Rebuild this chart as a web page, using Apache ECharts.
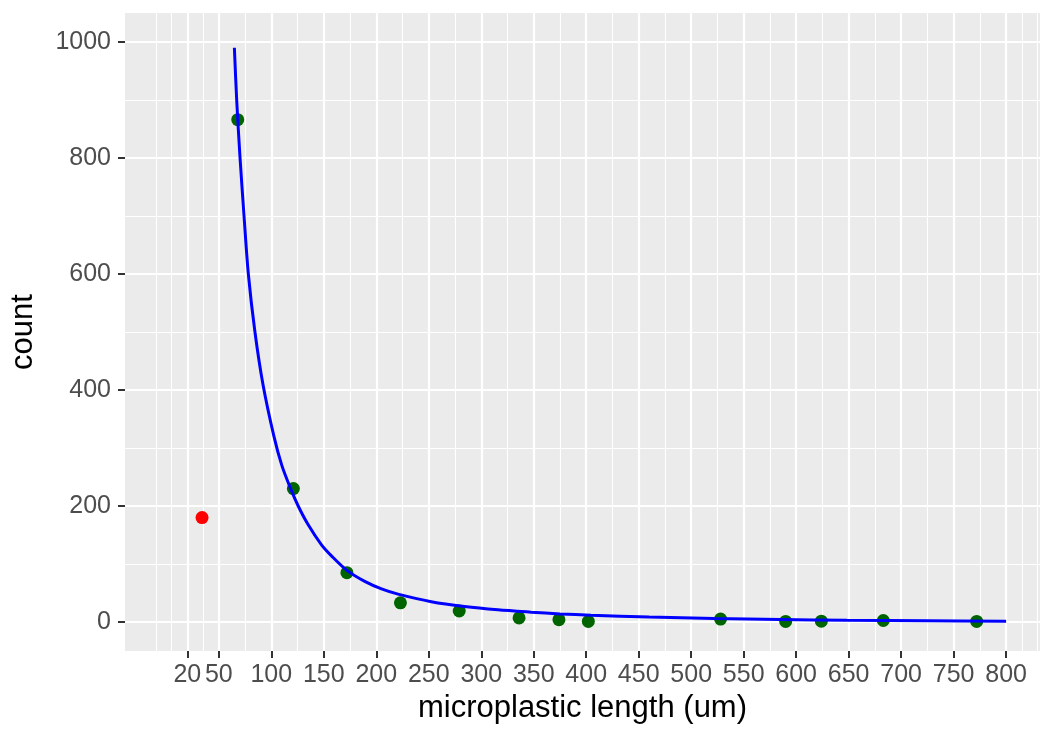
<!DOCTYPE html>
<html>
<head>
<meta charset="utf-8">
<script src="https://cdn.jsdelivr.net/npm/echarts@6/dist/echarts.min.js"></script>
<style>
    html, body { margin: 0; padding: 0; background: #fff; }
    #main { width: 1046px; height: 729px; }
</style>
</head>
<body>
<div id="main"></div>
<script>
// observed counts by length (um)
var greenPoints = [
    [68, 866], [121, 230], [172, 85], [223, 33], [279, 19], [336, 7],
    [374, 4], [402, 1], [528, 5], [590, 1], [624, 1.5], [683, 2.6], [772, 1]
];
var redPoints = [[34, 180]];
// fitted curve
var fitCurve = [
    [64.8, 990], [67, 900], [70.2, 800], [74, 700], [78.1, 600], [84.4, 500], [92, 410],
    [102.5, 320], [110, 270], [118.6, 229], [125.6, 200], [135, 168], [147.8, 133],
    [157.3, 114], [172, 89], [189, 70], [205, 57], [220.7, 48], [252.4, 35], [284, 26.7],
    [315.8, 21], [347.5, 17], [375, 14], [404.5, 11.7], [460, 8.5], [521.7, 6], [585, 4.3],
    [648.5, 3], [725, 2.2], [800, 1.5]
];
var xBreaks = [20, 50, 100, 150, 200, 250, 300, 350, 400, 450, 500, 550, 600, 650, 700, 750, 800];
var xMinor = [-10, 5, 35, 75, 125, 175, 225, 275, 325, 375, 425, 475, 525, 575, 625, 675, 725, 775, 815, 830];
var yBreaks = [0, 200, 400, 600, 800, 1000];
var yMinor = [100, 300, 500, 700, 900];

var chart = echarts.init(document.getElementById('main'));
var font = 'Liberation Sans, Arial, sans-serif';
var xMin = -39.4, xMax = 832.3, yMin = -50, yMax = 1050;

var option = {
    backgroundColor: '#ffffff',
    animation: false,
    grid: {
        left: 123, right: 6, top: 13, bottom: 78,
        show: true,
        backgroundColor: '#EBEBEB',
        borderWidth: 0
    },
    xAxis: [{
        type: 'value',
        min: xMin, max: xMax,
        name: 'microplastic length (um)',
        nameLocation: 'middle',
        nameGap: 42,
        nameTextStyle: { fontFamily: font, fontSize: 31, color: '#000' },
        axisLine: { show: false, onZero: false },
        axisTick: { show: true, length: 7, customValues: xBreaks, lineStyle: { color: '#333', width: 2 } },
        axisLabel: { customValues: xBreaks, margin: 12, fontFamily: font, fontSize: 25, color: '#4D4D4D',
            formatter: function(v) { return String(v); } },
        splitLine: { show: true, lineStyle: { color: '#fff', width: 2.2 } }
    }, {
        type: 'value',
        min: xMin, max: xMax,
        axisLine: { show: false, onZero: false },
        axisTick: { show: false, customValues: xMinor },
        axisLabel: { show: false },
        splitLine: { show: true, lineStyle: { color: '#fff', width: 1.1 } }
    }],
    yAxis: [{
        type: 'value',
        min: yMin, max: yMax,
        name: 'count',
        nameLocation: 'middle',
        nameGap: 86,
        nameTextStyle: { fontFamily: font, fontSize: 31, color: '#000' },
        axisLine: { show: false, onZero: false },
        axisTick: { show: true, length: 7, customValues: yBreaks, lineStyle: { color: '#333', width: 2 } },
        axisLabel: { customValues: yBreaks, margin: 14, fontFamily: font, fontSize: 25, color: '#4D4D4D',
            formatter: function(v) { return String(v); } },
        splitLine: { show: true, lineStyle: { color: '#fff', width: 2.2 } }
    }, {
        type: 'value',
        min: yMin, max: yMax,
        axisLine: { show: false, onZero: false },
        axisTick: { show: false, customValues: yMinor },
        axisLabel: { show: false },
        splitLine: { show: true, lineStyle: { color: '#fff', width: 1.1 } }
    }],
    series: [{
        name: 'counts',
        type: 'scatter',
        data: greenPoints,
        symbolSize: 13,
        itemStyle: { color: '#006400', opacity: 1 },
        z: 2
    }, {
        name: 'outlier',
        type: 'scatter',
        data: redPoints,
        symbolSize: 13,
        itemStyle: { color: '#FF0000', opacity: 1 },
        z: 2
    }, {
        name: 'fit',
        type: 'line',
        data: fitCurve,
        smooth: 0.3,
        showSymbol: false,
        lineStyle: { color: '#0000FF', width: 3 },
        z: 3
    }]
};
chart.setOption(option);
</script>
</body>
</html>
